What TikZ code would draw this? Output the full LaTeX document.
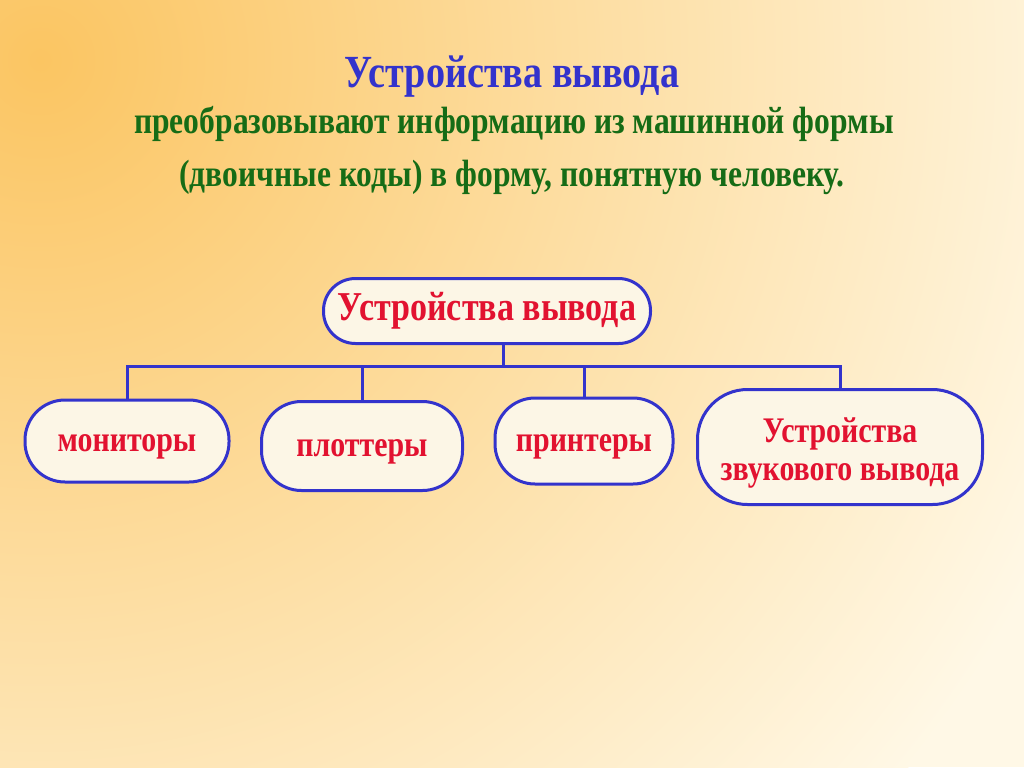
\documentclass[tikz,border=0pt]{standalone}
\usepackage{fontspec}
\setmainfont[FakeStretch=0.83]{Liberation Serif}
\usetikzlibrary{positioning, calc}
\definecolor{slideBlue}{RGB}{51, 51, 204}
\definecolor{slideRed}{RGB}{226, 18, 48}
\definecolor{slideGreen}{RGB}{22, 108, 22}
\definecolor{slideCream}{RGB}{252, 246, 230}
\definecolor{slideOrange}{RGB}{251, 197, 98}
\definecolor{slideLight}{RGB}{255, 248, 230}

\begin{document}
\begin{tikzpicture}[
        x=0.5pt, y=-0.5pt,
        device/.style={rectangle, draw=slideBlue, line width=1.5pt, fill=slideCream, rounded corners=20pt, inner sep=0pt, align=center, text=slideRed, text height=10pt, text depth=0pt, font=\fontsize{18}{19}\selectfont\bfseries},
        heading/.style={text=slideGreen, font=\fontsize{19}{22}\selectfont\bfseries},
        link/.style={draw=slideBlue, line width=1.5pt}
    ]
        % background
        \fill[slideLight] (0,0) rectangle (1024,767);
        \begin{scope}
            \clip (0,0) rectangle (1024,767);
            \shade[inner color=slideOrange, outer color=slideLight] (40,60) circle (560pt);
        \end{scope}
        \useasboundingbox (0,0) rectangle (1024,767);

        \node[text=slideBlue, font=\fontsize{23}{26}\selectfont\bfseries] (title) at (512,77) {Устройства вывода};
        \node[heading] (line1) at (514,124) {преобразовывают информацию из машинной формы};
        \node[heading] (line2) at (512,177) {(двоичные коды) в форму, понятную человеку.};

        \node[device, minimum width=163.5pt, minimum height=32.5pt, rounded corners=16pt, text height=, text depth=, font=\fontsize{20.5}{22}\selectfont\bfseries] (root) at (487,311) {Устройства вывода};
        \node[device, minimum width=102pt, minimum height=41pt] (monitor) at (127,441) {мониторы};
        \node[device, minimum width=100.5pt, minimum height=44.5pt] (plotter) at (362,446) {плоттеры};
        \node[device, minimum width=89pt, minimum height=43pt] (printer) at (584,441) {принтеры};
        \node[device, minimum width=142.5pt, minimum height=57.5pt, rounded corners=25pt, text height=33pt] (sound) at (840,447) {Устройства\\звукового вывода};

        \coordinate (bus) at (503,366);
        \draw[link] (root.south -| bus) -- (bus);
        \draw[link] (monitor.north) -- (monitor.north |- bus) -- (sound.north |- bus) -- (sound.north);
        \foreach \dev in {plotter, printer}
            \draw[link] (\dev.north |- bus) -- (\dev.north);
    \end{tikzpicture}
\end{document}
